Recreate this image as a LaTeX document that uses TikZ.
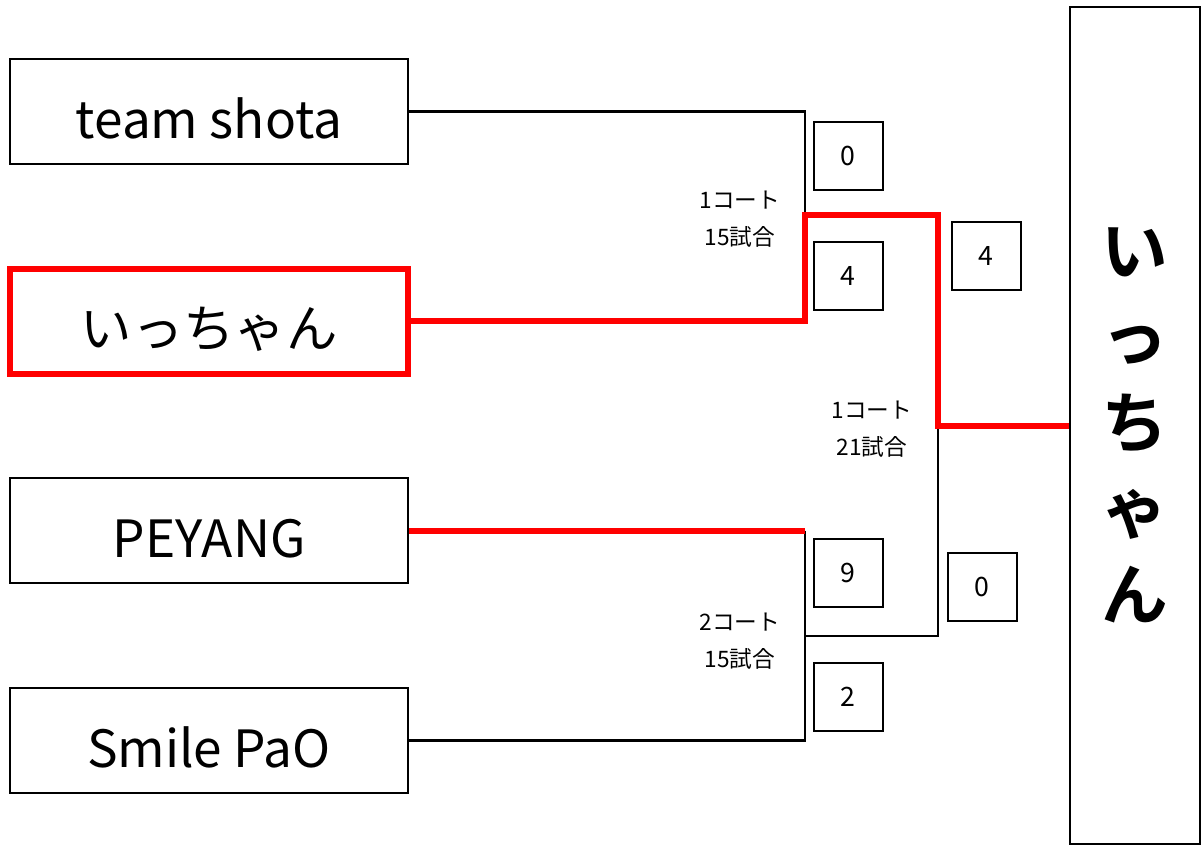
\documentclass[tikz,border=0pt]{standalone}
\usepackage{fontspec}
\setmainfont{Noto Sans CJK JP}
\newfontfamily\boldjp{Noto Sans CJK JP Bold}
\usetikzlibrary{positioning}
\newcommand{\px}{0.75pt}
\newcommand{\colA}{209}
\newcommand{\colB}{848}

\tikzset{
	team/.style = {draw, line width=1.5pt, inner sep=0pt, minimum width=398*\px, minimum height=105*\px, text height=40pt, text depth=0pt, font=\fontsize{38.5}{40}\selectfont},
	winner/.style = {team, draw=red, line width=4.5pt},
	score/.style = {draw, line width=1.5pt, inner sep=0pt, minimum width=69*\px, minimum height=68*\px, font=\fontsize{20}{22}\selectfont},
	court/.style = {align=center, inner sep=0pt, font=\fontsize{17}{28}\selectfont},
	wire/.style = {line width=1.6pt},
	redwire/.style = {line width=4.5pt, red},
}

\begin{document}
\begin{tikzpicture}[x=\px, y=-\px]
		\useasboundingbox (0, 0) rectangle (1202, 846);
		
		% teams
		\node[team] (shota) at (\colA, 111.5) {team shota};
		\node[winner] (icchan) at (\colA, 321) {いっちゃん};
		\node[team] (peyang) at (\colA, 530.5) {PEYANG};
		\node[team] (smile) at (\colA, 740.5) {Smile PaO};
		
		% champion
		\node[draw, line width=1.5pt, inner sep=0pt, minimum width=130*\px, minimum height=837*\px, align=center, font=\boldjp\fontsize{50}{64.5}\selectfont] (champ) at (1135, 425.5) {い\\っ\\ち\\ゃ\\ん};
		
		% junctions
		\coordinate (j1) at (805, 215);
		\coordinate (j2) at (805, 530.5);
		\coordinate (j3) at (938, 425.5);
		\coordinate (m2) at (805, 636);
		
		% first round
		\draw[wire] (shota.east) -| (j1);
		\draw[wire] (j2) |- (smile.east);
		\draw[wire] (m2) -| (j3);
		\draw[redwire] (icchan.east) -| (j1) -| (j3) -- (champ.west);
		\draw[redwire] (peyang.east) -- (j2);
		
		% scores
		\node[score] (s1) at (\colB, 156) {0};
		\node[score] (s2) at (\colB, 275.5) {4};
		\node[score] (s3) at (\colB, 573) {9};
		\node[score] (s4) at (\colB, 696.5) {2};
		\node[score] (s5) at (986, 255.5) {4};
		\node[score] (s6) at (982, 587) {0};
		
		% courts
		\node[court] (c1) at (740, 219) {1コート\\15試合};
		\node[court] (c2) at (872, 429) {1コート\\21試合};
		\node[court] (c3) at (740, 641) {2コート\\15試合};
	\end{tikzpicture}
\end{document}
